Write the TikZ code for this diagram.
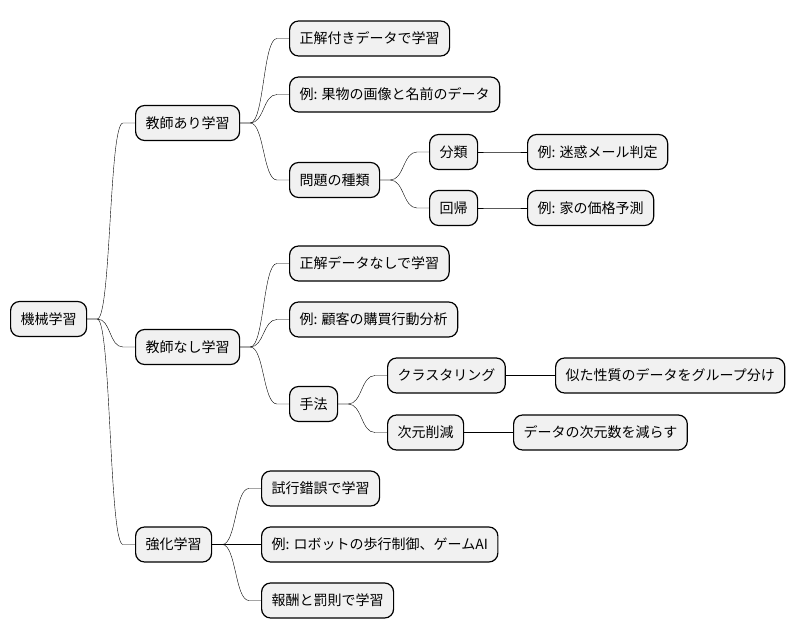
\documentclass[tikz,border=0pt]{standalone}
\usepackage{fontspec}
\newfontfamily\jpfont{Noto Sans CJK JP}
\usepackage{xcolor}
\usepackage{tikz}
\usetikzlibrary{calc}
\definecolor{boxfill}{HTML}{F1F1F1}
\tikzset{ topic/.style = {rectangle, rounded corners=9pt, draw, fill=boxfill, line width=1.2pt, minimum height=35pt, inner xsep=10pt, anchor=west, font=\jpfont\fontsize{14}{16}\selectfont, text height=12.3pt, text depth=1.7pt} }
\tikzset{ branch/.style = {line width=0.9pt, to path={-- ++(10,0) .. controls +(14,0) and +(-14,0) .. ([xshift=-12pt]\tikztotarget) -- (\tikztotarget)}} }

\begin{document}
\begin{tikzpicture}[x=1pt, y=-1pt]
                        \useasboundingbox (0,0) rectangle (796,640);
                        \node[topic] (ml) at (10, 319) {機械学習};
                        \node[topic] (sup) at (135, 123) {教師あり学習};
                        \node[topic] (unsup) at (135, 347) {教師なし学習};
                        \node[topic] (rl) at (135, 544.5) {強化学習};
                        \node[topic] (sup1) at (289, 38.5) {正解付きデータで学習};
                        \node[topic] (sup2) at (289, 94.5) {例: 果物の画像と名前のデータ};
                        \node[topic] (sup3) at (289, 180) {問題の種類};
                        \node[topic] (cls) at (429, 152) {分類};
                        \node[topic] (reg) at (429, 208) {回帰};
                        \node[topic] (clsex) at (527, 152) {例: 迷惑メール判定};
                        \node[topic] (regex) at (527, 208) {例: 家の価格予測};
                        \node[topic] (unsup1) at (289, 263.5) {正解データなしで学習};
                        \node[topic] (unsup2) at (289, 319.5) {例: 顧客の購買行動分析};
                        \node[topic] (unsup3) at (289, 404) {手法};
                        \node[topic] (clu) at (387, 375.5) {クラスタリング};
                        \node[topic] (dim) at (387, 432.5) {次元削減};
                        \node[topic] (cluex) at (555, 375.5) {似た性質のデータをグループ分け};
                        \node[topic] (dimex) at (513, 432.5) {データの次元数を減らす};
                        \node[topic] (rl1) at (261, 488.5) {試行錯誤で学習};
                        \node[topic] (rl2) at (261, 544.5) {例: ロボットの歩行制御、ゲームAI};
                        \node[topic] (rl3) at (261, 600.5) {報酬と罰則で学習};
                        \draw (ml.east) to[branch] (sup.west);
                        \draw (ml.east) to[branch] (unsup.west);
                        \draw (ml.east) to[branch] (rl.west);
                        \draw (sup.east) to[branch] (sup1.west);
                        \draw (sup.east) to[branch] (sup2.west);
                        \draw (sup.east) to[branch] (sup3.west);
                        \draw (sup3.east) to[branch] (cls.west);
                        \draw (sup3.east) to[branch] (reg.west);
                        \draw (cls.east) to[branch] (clsex.west);
                        \draw (reg.east) to[branch] (regex.west);
                        \draw (unsup.east) to[branch] (unsup1.west);
                        \draw (unsup.east) to[branch] (unsup2.west);
                        \draw (unsup.east) to[branch] (unsup3.west);
                        \draw (unsup3.east) to[branch] (clu.west);
                        \draw (unsup3.east) to[branch] (dim.west);
                        \draw (clu.east) to[branch] (cluex.west);
                        \draw (dim.east) to[branch] (dimex.west);
                        \draw (rl.east) to[branch] (rl1.west);
                        \draw (rl.east) to[branch] (rl2.west);
                        \draw (rl.east) to[branch] (rl3.west);
                \end{tikzpicture}
\end{document}
